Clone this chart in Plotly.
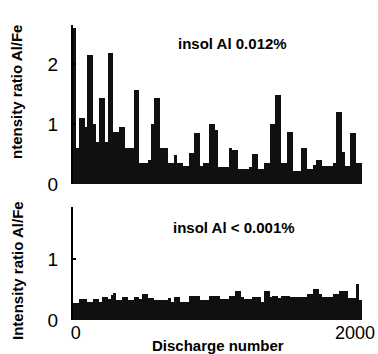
import plotly.graph_objects as go
from plotly.subplots import make_subplots

# Discharge-number bins (bin width in discharge units), 100 bins
bin_width = 20.7
bin_start = -20
n_bins = 100
discharge = [bin_start + bin_width * (i + 0.5) for i in range(n_bins)]

# Intensity ratio Al/Fe, insol Al 0.012%
ratio_high = [
    2.6, 0.6, 1.1, 1.1, 0.95, 2.15, 2.15, 1.0, 0.7, 1.43,
    1.43, 0.7, 2.18, 2.18, 0.87, 0.87, 0.95, 0.95, 0.6, 0.6,
    0.6, 1.57, 1.57, 0.35, 0.35, 0.35, 0.4, 1.0, 1.43, 1.43,
    0.6, 0.6, 0.6, 0.35, 0.35, 0.48, 0.35, 0.35, 0.3, 0.3,
    0.52, 0.52, 0.85, 0.85, 0.3, 0.35, 0.35, 1.0, 1.0, 0.9,
    0.28, 0.28, 0.28, 0.28, 0.6, 0.57, 0.57, 0.25, 0.25, 0.25,
    0.25, 0.28, 0.5, 0.5, 0.25, 0.25, 0.35, 0.35, 1.0, 1.0,
    1.48, 1.48, 0.35, 0.35, 0.87, 0.87, 0.22, 0.22, 0.22, 0.6,
    0.6, 0.25, 0.25, 0.32, 0.4, 0.4, 0.3, 0.3, 0.3, 0.3,
    0.35, 1.2, 1.2, 0.53, 0.3, 0.3, 0.85, 0.85, 0.35, 0.35,
]

# Intensity ratio Al/Fe, insol Al < 0.001%
ratio_low = [
    0.28, 0.28, 0.34, 0.34, 0.34, 0.3, 0.3, 0.34, 0.34, 0.3,
    0.37, 0.37, 0.34, 0.41, 0.45, 0.33, 0.33, 0.38, 0.38, 0.33,
    0.33, 0.38, 0.38, 0.34, 0.43, 0.43, 0.36, 0.36, 0.33, 0.33,
    0.32, 0.32, 0.32, 0.36, 0.3, 0.37, 0.37, 0.3, 0.3, 0.3,
    0.4, 0.4, 0.4, 0.4, 0.33, 0.33, 0.33, 0.4, 0.4, 0.4,
    0.4, 0.34, 0.34, 0.34, 0.4, 0.4, 0.48, 0.48, 0.38, 0.34,
    0.34, 0.34, 0.38, 0.38, 0.38, 0.3, 0.48, 0.47, 0.38, 0.4,
    0.4, 0.36, 0.4, 0.4, 0.4, 0.38, 0.38, 0.38, 0.38, 0.38,
    0.38, 0.42, 0.42, 0.5, 0.5, 0.42, 0.38, 0.38, 0.38, 0.38,
    0.42, 0.42, 0.48, 0.47, 0.47, 0.36, 0.36, 0.36, 0.59, 0.33,
]

x_tick_vals = [0, 2000]
x_tick_text = ["0", "2000"]
top_y_ticks = [0, 1, 2]
bottom_y_ticks = [0, 1]

W, H = 378, 354
ML, MR, MT, MB = 73, 16, 25, 34
PW, PH = W - ML - MR, H - MT - MB


def px_x(px):
    return (px - ML) / PW


def px_y(py):
    return (H - MB - py) / PH


fig = make_subplots(rows=2, cols=1, vertical_spacing=0.08)

bar_color = "#101010"
fig.add_trace(go.Bar(x=discharge, y=ratio_high, width=bin_width,
                     marker=dict(color=bar_color, line=dict(width=0))),
              row=1, col=1)
fig.add_trace(go.Bar(x=discharge, y=ratio_low, width=bin_width,
                     marker=dict(color=bar_color, line=dict(width=0))),
              row=2, col=1)

tick_font = dict(family="Liberation Sans Narrow, Arial Narrow, Liberation Sans, sans-serif",
                 size=19, color="black")

top_dom = [px_y(184), 1.0]
bot_dom = [0.0, px_y(207)]

fig.update_layout(
    width=W, height=H,
    margin=dict(l=ML, r=MR, t=MT, b=MB, autoexpand=False),
    plot_bgcolor="white", paper_bgcolor="white",
    showlegend=False, bargap=0,
    xaxis=dict(range=[bin_start, bin_start + bin_width * n_bins], showticklabels=False,
               showgrid=False, zeroline=False, showline=False, ticks="", automargin=False),
    xaxis2=dict(range=[bin_start, bin_start + bin_width * n_bins], tickvals=x_tick_vals,
                ticktext=x_tick_text, showgrid=False, zeroline=False, showline=False,
                ticks="", tickfont=dict(tick_font, size=18), automargin=False),
    yaxis=dict(domain=top_dom, range=[0, 2.65], tickvals=top_y_ticks, showgrid=False,
               zeroline=False, showline=True, linecolor="black", linewidth=2,
               ticks="inside", ticklen=3, tickwidth=2, tickcolor="black",
               tickfont=tick_font, ticklabelstandoff=9, automargin=False),
    yaxis2=dict(domain=bot_dom, range=[0, 1.85], tickvals=bottom_y_ticks, showgrid=False,
                zeroline=False, showline=True, linecolor="black", linewidth=2,
                ticks="inside", ticklen=3, tickwidth=2, tickcolor="black",
                tickfont=tick_font, ticklabelstandoff=9, automargin=False),
)

ann_font = dict(family="Liberation Sans, Arial, sans-serif", size=15, color="black")
annotations = [
    dict(text="<b>ntensity ratio Al/Fe</b>", x=px_x(17), y=px_y(92), textangle=-90, font=ann_font),
    dict(text="<b>Intensity ratio Al/Fe</b>", x=px_x(17), y=px_y(271), textangle=-90, font=ann_font),
    dict(text="<b>insol Al 0.012%</b>", x=px_x(232), y=px_y(43), font=ann_font),
    dict(text="<b>insol Al &lt; 0.001%</b>", x=px_x(234), y=px_y(227), font=ann_font),
    dict(text="<b>Discharge number</b>", x=px_x(218), y=px_y(345), font=ann_font),
]
for a in annotations:
    fig.add_annotation(xref="paper", yref="paper", showarrow=False,
                       xanchor="center", yanchor="middle", **a)

fig.write_html("out.html", config={"displayModeBar": False},
               post_script="document.body.style.margin='0';document.body.style.padding='0';")
